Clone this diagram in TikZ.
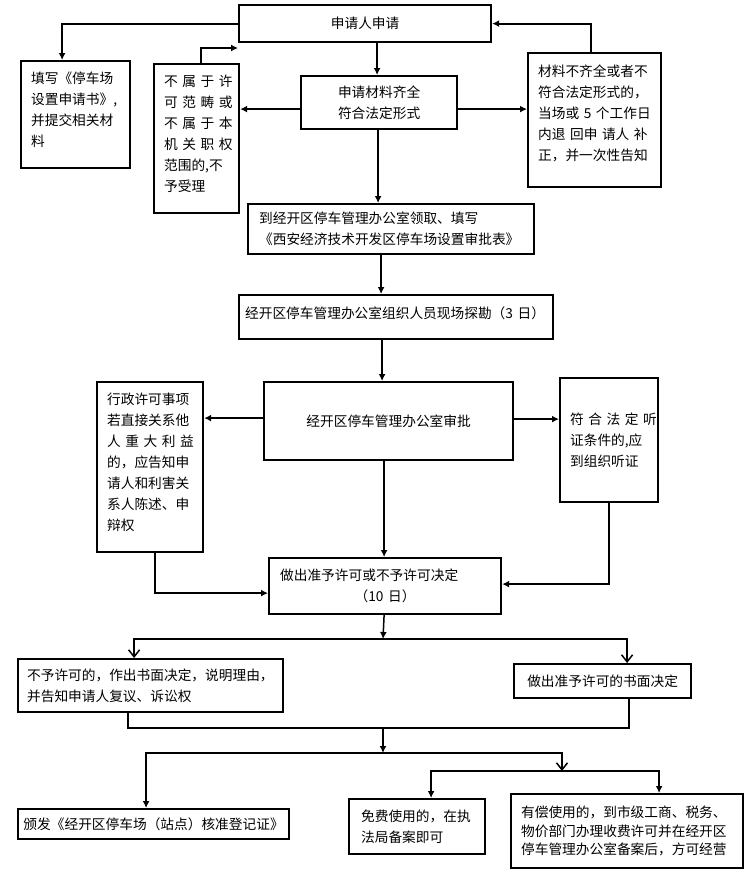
\documentclass[tikz,border=0pt]{standalone}
\usepackage{fontspec}
\setmainfont{Noto Sans CJK SC}
\usetikzlibrary{arrows.meta}
\newcommand{\sline}[1]{\makebox[\linewidth][s]{#1}}

\begin{document}
\begin{tikzpicture}[x=1pt,y=-1pt,
  box/.style={draw,line width=2.2pt,anchor=north west,inner ysep=0pt,align=left,font=\fontsize{13.7}{21}\selectfont},
  conn/.style={line width=1.8pt,-{Latex[length=7pt,width=7pt]}},
  link/.style={line width=1.5pt},
  farr/.style={link,-{Latex[length=7pt,width=7pt]}},
  oarr/.style={link,-{Straight Barb[length=7pt,width=11pt,line width=1.5pt]}}]
\useasboundingbox (0,0) rectangle (750,873);
\node [box,text width=232pt,inner xsep=10pt,minimum height=37pt,align=center] (apply) at (238,4) {申请人申请};
\node [box,text width=89pt,inner xsep=10pt,text height=22pt,text depth=85pt] (fill) at (20,60) {填写《停车场\\设置申请书》,\\并提交相关材\\料};
\node [box,text width=65pt,inner xsep=10pt,text height=22pt,text depth=127pt] (reject) at (153,63) {\sline{不 属 于 许}\\\sline{可 范 畴 或}\\\sline{不 属 于 本}\\\sline{机 关 职 权}\\范围的,不\\予受理};
\node [box,text width=136pt,inner xsep=10pt,minimum height=53pt,align=center] (complete) at (300,75) {申请材料齐全\\符合法定形式};
\node [box,text width=113pt,inner xsep=10pt,text height=23pt,text depth=111pt] (incomplete) at (527,52) {材料不齐全或者不\\符合法定形式的，\\当场或 5 个工作日\\\sline{内退 回申 请人 补}\\正，并一次性告知};
\node [box,text width=264pt,inner xsep=11pt,minimum height=50pt] (collect) at (247,203) {到经开区停车管理办公室领取、填写\\《西安经济技术开发区停车场设置审批表》};
\node [box,text width=302pt,inner xsep=6pt,text height=23pt,text depth=21pt] (survey) at (238,294) {\mbox{经开区停车管理办公室组织人员现场探勘（3 日）}};
\node [box,text width=229pt,inner xsep=10pt,minimum height=78pt,align=center] (approve) at (263,381) {经开区停车管理办公室审批};
\node [box,text width=86pt,inner xsep=10pt,text height=22pt,text depth=148pt] (notify) at (96,381) {行政许可事项\\若直接关系他\\\sline{人 重 大 利 益}\\的，应告知申\\请人和利害关\\系人陈述、申\\辩权};
\node [box,text width=78pt,inner xsep=10pt,minimum height=124pt] (hearing) at (559,377) {\sline{符 合 法 定 听}\\证条件的,应\\到组织听证};
\node [box,text width=210pt,inner xsep=11pt,minimum height=56pt] (decide) at (268,557) {做出准予许可或不予许可决定\\\makebox[\linewidth]{（10 日）}};
\node [box,text width=247pt,inner xsep=9pt,minimum height=53pt] (deny) at (17,658) {不予许可的，作出书面决定，说明理由，\\并告知申请人复议、诉讼权};
\node [box,text width=157pt,inner xsep=10pt,minimum height=34pt,align=center] (grant) at (513,663) {做出准予许可的书面决定};
\node [box,text width=261pt,inner xsep=5pt,minimum height=30pt,align=center] (cert) at (17,808) {颁发《经开区停车场（站点）核准登记证》};
\node [box,text width=112pt,inner xsep=12pt,minimum height=55pt] (free) at (348,798) {免费使用的，在执\\法局备案即可};
\node [box,text width=212pt,inner xsep=10pt,minimum height=74pt,font=\fontsize{13.7}{18.5}\selectfont] (paid) at (510,793) {有偿使用的，到市级工商、税务、\\物价部门办理收费许可并在经开区\\停车管理办公室备案后，方可经营};
% upper part
\coordinate (back) at (238,48);
\draw [conn] (apply.west) -| ([xshift=-13.5pt]fill.north);
\draw [conn] ([xshift=4.5pt]reject.north) |- (back);
\draw [conn] ([xshift=-2pt]complete.north |- apply.south) -- ([xshift=-2pt]complete.north);
\draw [conn] ([yshift=-6.5pt]complete.west) -- ([yshift=-6.5pt]complete.west -| reject.east);
\draw [conn] ([yshift=-6.5pt]complete.east) -- ([yshift=-6.5pt]complete.east -| incomplete.west);
\draw [conn] ([xshift=-3.5pt]incomplete.north) |- (apply.east);
\draw [conn] ([xshift=-1pt]complete.south) -- ([xshift=-1pt]complete.south |- collect.north);
\draw [conn] ([xshift=-10pt]collect.south) -- ([xshift=-10pt]collect.south |- survey.north);
\draw [conn] ([xshift=-14pt]survey.south) -- ([xshift=-14pt]survey.south |- approve.north);
\draw [conn] ([yshift=3pt]approve.west) -- ([yshift=3pt]approve.west -| notify.east);
\draw [conn] ([yshift=2pt]approve.east) -- ([yshift=2pt]approve.east -| hearing.west);
\draw [conn] ([xshift=-4.5pt]approve.south) -- ([xshift=-4.5pt]approve.south |- decide.north);
\draw [conn] ([xshift=5pt]notify.south) |- ([yshift=-7pt]decide.west);
\draw [conn] (hearing.south) |- ([yshift=2pt]decide.east);
% lower part
\coordinate (split1) at (383,639);
\coordinate (merge) at (383,728);
\coordinate (split2) at (383,753);
\coordinate (split3) at (562,771);
\draw [farr] ([xshift=-1pt]decide.south) -- (split1);
\draw [oarr] (split1) -| ([xshift=-16.5pt]deny.north);
\draw [oarr] (split1) -| ([xshift=24.5pt]grant.north);
\draw [link] ([xshift=-22.5pt]deny.south) |- (merge);
\draw [link] ([xshift=26.5pt]grant.south) |- (merge);
\draw [farr] (merge) -- (split2);
\draw [farr] (split2) -| ([xshift=-7.5pt]cert.north);
\draw [oarr] (split2) -| (split3);
\draw [farr] (split3) -| ([xshift=14pt]free.north);
\draw [farr] (split3) -| ([xshift=32pt]paid.north);
\end{tikzpicture}
\end{document}
